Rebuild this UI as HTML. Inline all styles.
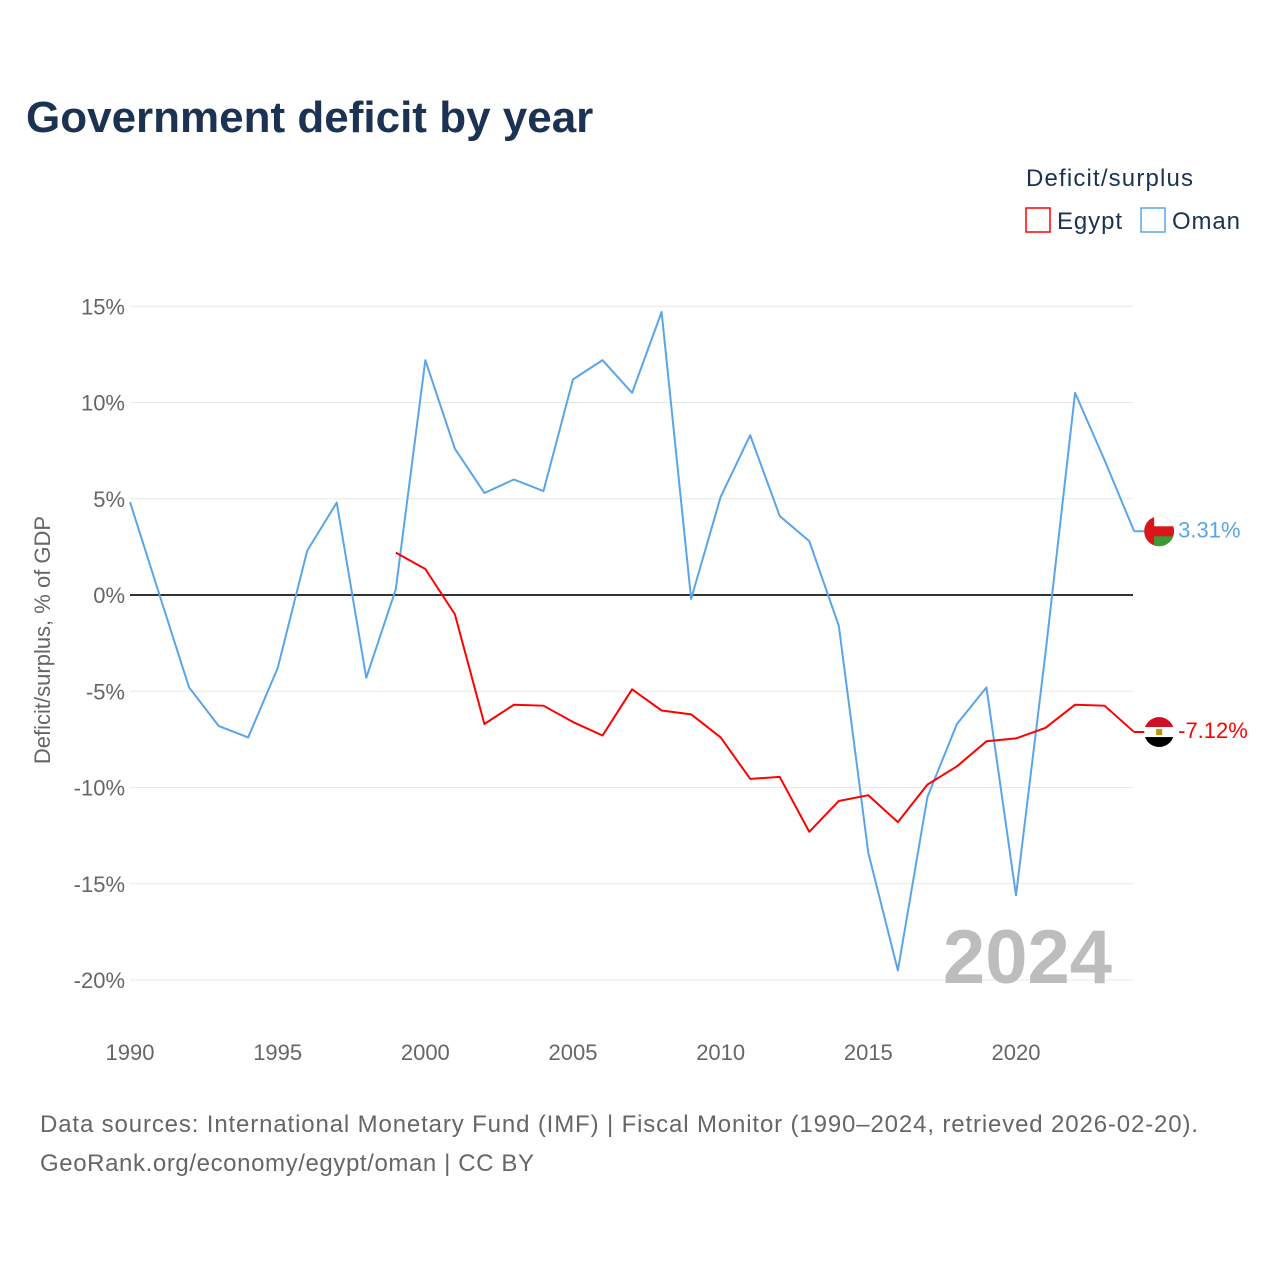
<!DOCTYPE html>
<html><head><meta charset="utf-8"><style>
body{margin:0;background:#fff;font-family:"Liberation Sans",sans-serif;}
#wrap{position:relative;width:1280px;height:1280px;overflow:hidden;}
</style></head><body>
<div id="wrap">
<svg id="chart" width="1280" height="1280">
<text x="26" y="132" font-size="44" font-weight="bold" fill="#1b3252">Government deficit by year</text>
<text x="1026" y="186" font-size="24" fill="#1b3252" textLength="167">Deficit/surplus</text>
<g><rect x="1026" y="208" width="24" height="24" fill="none" stroke="#ff0000" stroke-width="1.5"/><text x="1057" y="229" font-size="24" fill="#1b3252" textLength="65">Egypt</text></g>
<g><rect x="1141" y="208" width="24" height="24" fill="none" stroke="#5aa5e8" stroke-width="1.5"/><text x="1172" y="229" font-size="24" fill="#1b3252" textLength="68">Oman</text></g>
<g id="grid"></g>
<text x="1112" y="983" font-size="76" font-weight="bold" fill="#bdbdbd" text-anchor="end">2024</text>
<g id="series"></g>
<text transform="translate(50,640) rotate(-90)" font-size="22" fill="#666" text-anchor="middle">Deficit/surplus, % of GDP</text>
<text x="40" y="1132" font-size="24" fill="#666" textLength="1158">Data sources: International Monetary Fund (IMF) | Fiscal Monitor (1990–2024, retrieved 2026-02-20).</text>
<text x="40" y="1171" font-size="24" fill="#666" textLength="494">GeoRank.org/economy/egypt/oman | CC BY</text>
</svg>
</div>
<script>
const years=[1990,1991,1992,1993,1994,1995,1996,1997,1998,1999,2000,2001,2002,2003,2004,2005,2006,2007,2008,2009,2010,2011,2012,2013,2014,2015,2016,2017,2018,2019,2020,2021,2022,2023,2024];
const omanValues=[4.83,0.0,-4.8,-6.8,-7.4,-3.8,2.3,4.8,-4.3,0.3,12.2,7.6,5.3,6.0,5.4,11.2,12.2,10.5,14.7,-0.2,5.1,8.3,4.1,2.8,-1.6,-13.4,-19.5,-10.5,-6.7,-4.8,-15.6,-3.0,10.5,7.0,3.31];
const egyptYears=[1999,2000,2001,2002,2003,2004,2005,2006,2007,2008,2009,2010,2011,2012,2013,2014,2015,2016,2017,2018,2019,2020,2021,2022,2023,2024];
const egyptValues=[2.2,1.35,-1.0,-6.7,-5.7,-5.75,-6.6,-7.3,-4.9,-6.0,-6.2,-7.4,-9.55,-9.45,-12.3,-10.7,-10.4,-11.8,-9.85,-8.9,-7.6,-7.45,-6.9,-5.7,-5.75,-7.12];
const yTicks=[15,10,5,0,-5,-10,-15,-20];
const xTicks=[1990,1995,2000,2005,2010,2015,2020];
const NS="http://www.w3.org/2000/svg";
const xs=y=>130+(y-1990)*(886/30);
const ys=v=>595-v*(385/20);
function mk(tag,attrs,parent){const e=document.createElementNS(NS,tag);for(const k in attrs)e.setAttribute(k,attrs[k]);parent.appendChild(e);return e;}
const grid=document.getElementById('grid'),ser=document.getElementById('series');
yTicks.forEach(t=>{
 const l=mk('line',{x1:130,x2:1133,y1:ys(t),y2:ys(t),stroke:t===0?'#333':'#e8e8e8','stroke-width':t===0?2:1},grid);
 
 
 const tx=mk('text',{x:125,y:ys(t)+8,'font-size':22,fill:'#666','text-anchor':'end'},grid);
 tx.textContent=t+'%';
 
 
});
xTicks.forEach(t=>{
 const tx=mk('text',{x:xs(t),y:1060,'font-size':22,fill:'#666','text-anchor':'middle'},grid);
 tx.textContent=t;
 
 
});
function line(xv,yv,color,name){
 const p=mk('polyline',{points:xv.map((y,i)=>xs(y)+','+ys(yv[i])).join(' '),fill:'none',stroke:color,'stroke-width':2,'stroke-linejoin':'round'},ser);
 
 
}
line(years,omanValues,'#5aa5e8','oman-line');
line(egyptYears,egyptValues,'#ff0000','egypt-line');
function endLabel(v,color,name,flag){
 const y=ys(v),x=xs(2024);
 mk('line',{x1:x,x2:x+22,y1:y,y2:y,stroke:color,'stroke-width':2},ser);
 const g=mk('g',{},ser);
 
 
 const cp=mk('clipPath',{id:name+'c'},g);
 mk('circle',{cx:x+25,cy:y,r:15},cp);
 const gg=mk('g',{'clip-path':'url(#'+name+'c)'},g);
 flag.forEach(f=>mk('rect',{x:x+10+f[0],y:y-15+f[1],width:f[2],height:f[3],fill:f[4]},gg));
 const tx=mk('text',{x:x+44,y:y+6,'font-size':22,fill:color},ser);
 tx.textContent=v.toFixed(2)+'%';
 
 
}
endLabel(omanValues[omanValues.length-1],'#5aa5e8','oman',[[0,0,30,30,'#db161b'],[10,0,20,10,'#fff'],[10,20,20,10,'#3a9a35']]);
endLabel(egyptValues[egyptValues.length-1],'#ff0000','egypt',[[0,0,30,10,'#ce1126'],[0,10,30,10,'#fff'],[0,20,30,10,'#000'],[12,12,6,6,'#c09300']]);
</script>
</body></html>
